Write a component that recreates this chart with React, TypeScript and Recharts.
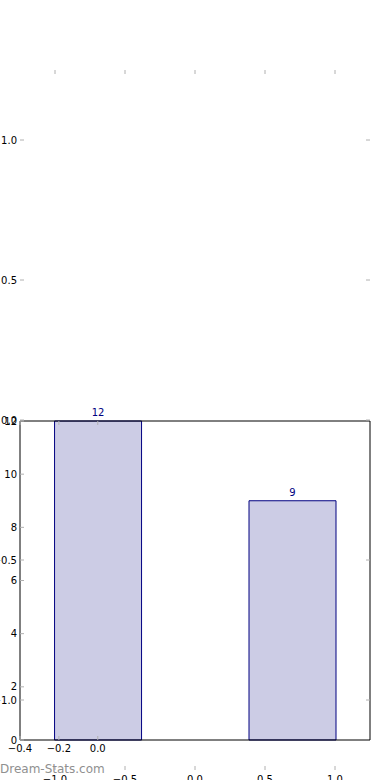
import React from 'react';
import { Bar, BarChart, ComposedChart, LabelList, XAxis, YAxis } from 'recharts';

// bar chart data
const barPositions = [0, 1];
const counts = [12, 9];
const barXTicks = [-0.4, -0.2, 0.0];
const barYTicks = [0, 2, 4, 6, 8, 10, 12];

// empty axes drawn over the whole figure
const ghostTicks = [-1, -0.5, 0, 0.5, 1];

const FONT = '"DejaVu Sans", sans-serif';
const TICK = '#b0b0b0';
const NAVY = '#000080';

const fmt1 = (v: number) => (v < 0 ? '\u2212' : '') + Math.abs(v).toFixed(1);
const fmt0 = (v: number) => String(v);

const leftTick = (fmt: (v: number) => string) => (p: any) => (
  <g>
    <line x1={p.x} x2={p.x + 4} y1={p.y} y2={p.y} stroke={TICK} />
    <text x={p.x - 3} y={p.y} textAnchor="end" dominantBaseline="central" fontSize={10} fontFamily={FONT} fill="#000">
      {fmt(p.payload.value)}
    </text>
  </g>
);

const rightTick = (p: any) => <line x1={p.x} x2={p.x - 4} y1={p.y} y2={p.y} stroke={TICK} />;

const bottomTick = (fmt: (v: number) => string, gap: number) => (p: any) => (
  <g>
    <line x1={p.x} x2={p.x} y1={p.y} y2={p.y - 4} stroke={TICK} />
    <text x={p.x} y={p.y + gap} dy="0.71em" textAnchor="middle" fontSize={10} fontFamily={FONT} fill="#000">
      {fmt(p.payload.value)}
    </text>
  </g>
);

const topTick = (p: any) => <line x1={p.x} x2={p.x} y1={p.y} y2={p.y + 4} stroke={TICK} />;

export default function App() {
  const data = barPositions.map((x, i) => ({ x, count: counts[i] }));
  const ghostData = ghostTicks.map((g) => ({ g }));

  return (
    <div style={{ position: 'absolute', left: 0, top: 0, width: 390, height: 780, overflow: 'hidden', background: '#fff' }}>
      <div style={{ position: 'absolute', left: 0, top: 400 }}>
        <BarChart width={390} height={380} data={data} margin={{ top: 20, right: 19, bottom: 20, left: 0 }}>
          <XAxis xAxisId="b" dataKey="x" type="number" domain={[-0.4, 1.4]} ticks={barXTicks} allowDataOverflow
            height={20} tickSize={0} tickMargin={0} tickLine={false} axisLine={{ stroke: '#000' }} tick={bottomTick(fmt1, 5)} />
          <XAxis xAxisId="t" orientation="top" dataKey="x" type="number" domain={[-0.4, 1.4]} ticks={barXTicks} allowDataOverflow
            height={1} tickSize={0} tickMargin={0} tickLine={false} axisLine={{ stroke: '#000' }} tick={topTick} />
          <YAxis yAxisId="l" type="number" domain={[0, 12]} ticks={barYTicks} width={20}
            tickSize={0} tickMargin={0} tickLine={false} axisLine={{ stroke: '#000' }} tick={leftTick(fmt0)} />
          <YAxis yAxisId="r" orientation="right" type="number" domain={[0, 12]} ticks={barYTicks} width={1}
            tickSize={0} tickMargin={0} tickLine={false} axisLine={{ stroke: '#000' }} tick={rightTick} />
          <Bar xAxisId="b" yAxisId="l" dataKey="count" barSize={87} fill="#ccccE5" stroke={NAVY} strokeWidth={1} isAnimationActive={false}>
            <LabelList dataKey="count" position="top" offset={5} fill={NAVY} fontSize={10} fontFamily={FONT} />
          </Bar>
        </BarChart>
      </div>
      <div style={{ position: 'absolute', left: 0, top: 0 }}>
        <ComposedChart width={390} height={780} data={ghostData} margin={{ top: 69, right: 19, bottom: 0, left: 0 }}>
          <XAxis xAxisId="b" dataKey="g" type="number" domain={[-1.25, 1.25]} ticks={ghostTicks} allowDataOverflow
            height={10} tickSize={0} tickMargin={0} tickLine={false} axisLine={false} tick={bottomTick(fmt1, 6)} />
          <XAxis xAxisId="t" dataKey="g" orientation="top" type="number" domain={[-1.25, 1.25]} ticks={ghostTicks} allowDataOverflow
            height={1} tickSize={0} tickMargin={0} tickLine={false} axisLine={false} tick={topTick} />
          <YAxis yAxisId="l" type="number" domain={[-1.25, 1.25]} ticks={ghostTicks} allowDataOverflow width={20}
            tickSize={0} tickMargin={0} tickLine={false} axisLine={false} tick={leftTick(fmt1)} />
          <YAxis yAxisId="r" orientation="right" type="number" domain={[-1.25, 1.25]} ticks={ghostTicks} allowDataOverflow width={1}
            tickSize={0} tickMargin={0} tickLine={false} axisLine={false} tick={rightTick} />
        </ComposedChart>
      </div>
      <div style={{ position: 'absolute', left: 0, top: 762, fontFamily: FONT, fontSize: 12, color: '#909090', whiteSpace: 'nowrap' }}>
        Dream-Stats.com
      </div>
    </div>
  );
}
